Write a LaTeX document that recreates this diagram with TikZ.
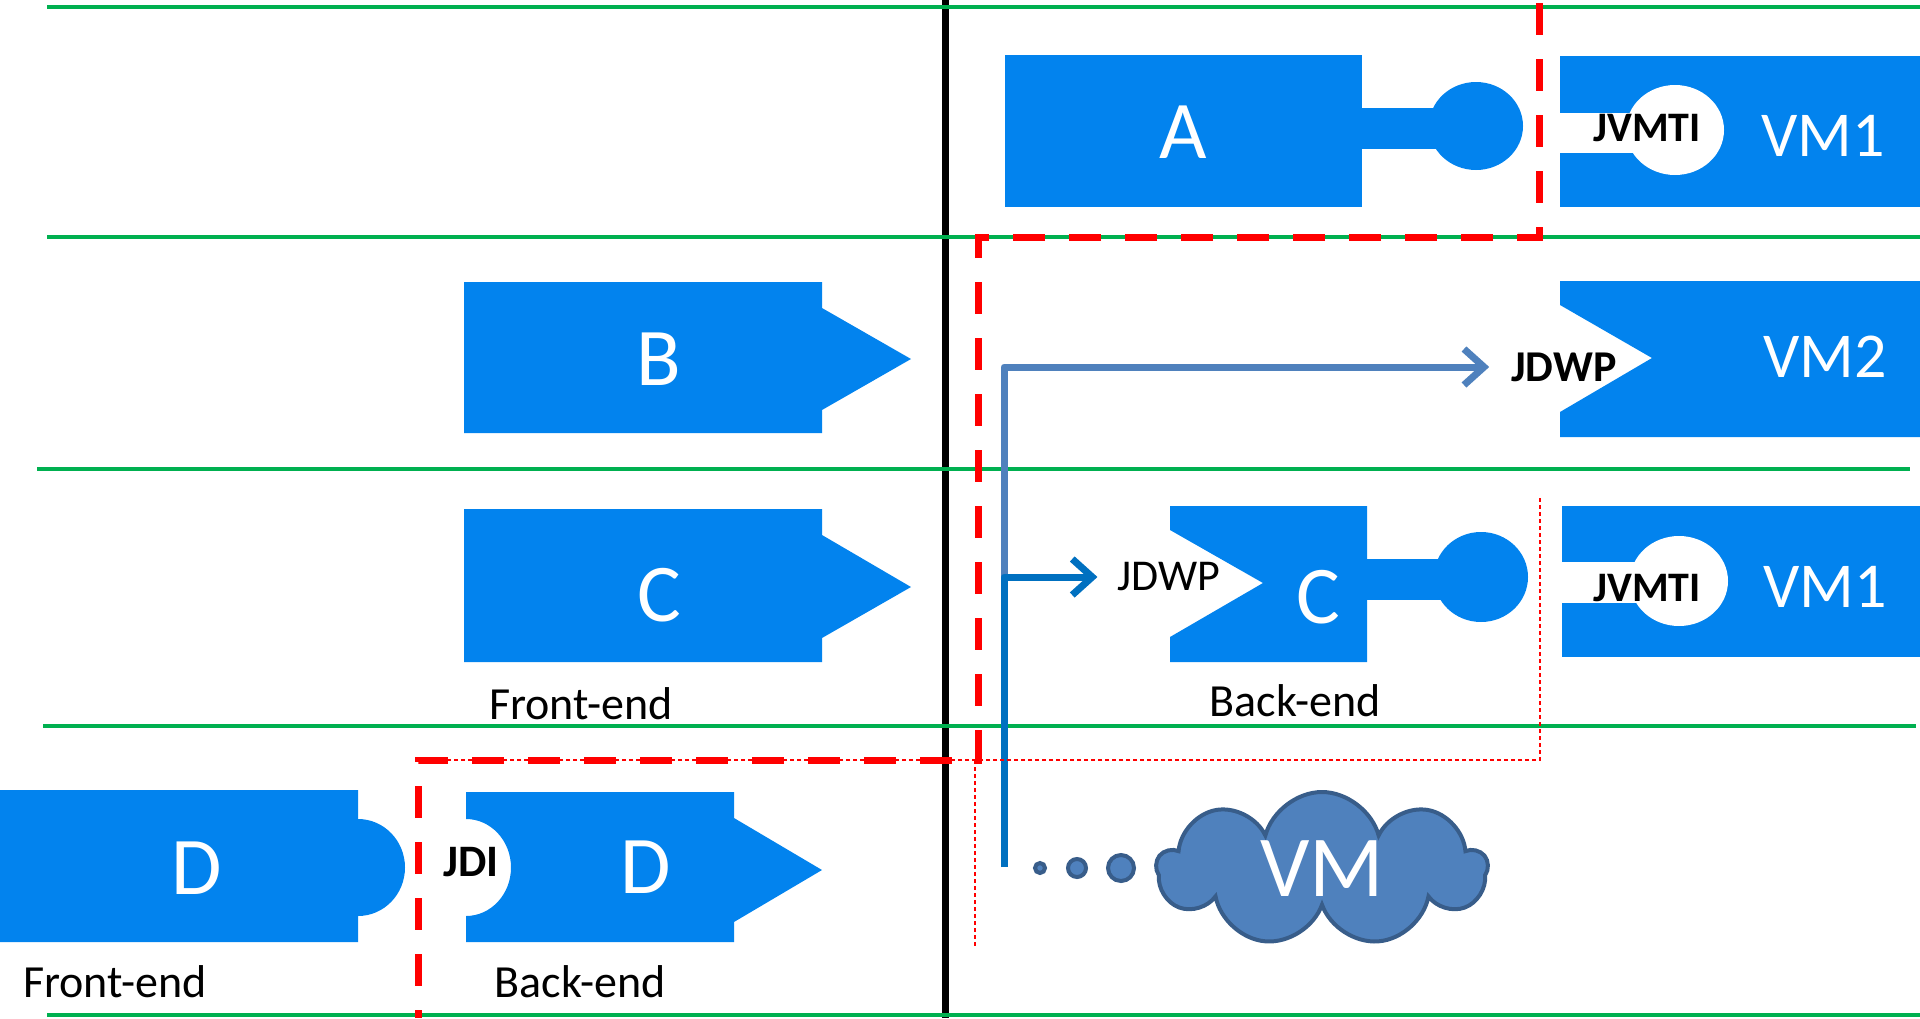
\documentclass[tikz,border=0pt]{standalone}
\usepackage{fontspec}
\setmainfont{Carlito}
\usetikzlibrary{arrows.meta,shapes.symbols}
\definecolor{boxblue}{RGB}{2,131,238}
\definecolor{gridgreen}{RGB}{0,176,80}
\definecolor{steel}{RGB}{79,129,189}
\definecolor{wireblue}{RGB}{0,112,192}
\definecolor{cloudedge}{RGB}{56,93,138}

\begin{document}
\begin{tikzpicture}[
		x=1pt, y=-1pt,
		every node/.style={inner sep=0pt},
		piece/.style={fill=boxblue},
		letter/.style={text=white,font=\fontsize{82}{82}\selectfont},
		vmname/.style={text=white,font=\fontsize{64}{64}\selectfont},
		iface/.style={font=\bfseries\fontsize{42}{42}\selectfont},
		caption/.style={font=\fontsize{46}{46}\selectfont},
		row/.style={draw=gridgreen,line width=4pt},
		border/.style={draw=red,line width=7pt,dash pattern=on 32pt off 24pt},
		fine/.style={draw=red,line width=1.5pt,dash pattern=on 4pt off 3pt},
		wire/.style={line width=7pt,line join=round,-{Straight Barb[length=20pt,width=36pt]}},
		bubble/.style={fill=steel,draw=cloudedge,line width=4pt}
		]
		\useasboundingbox (0,0) rectangle (1920,1018);
		% separator and rows
		\draw[line width=7pt] (945,0) -- (945,1018);
		\draw[row] (47,7) -- (1920,7);
		\draw[row] (47,237) -- (1920,237);
		\draw[row] (37,469) -- (1910,469);
		\draw[row] (43,726) -- (1916,726);
		\draw[row] (47,1015) -- (1920,1015);
		
		% row 1: A and VM1
		\fill[piece] (1005,55) rectangle (1362,207);
		\fill[piece] (1360,108) rectangle (1440,149);
		\fill[piece] (1476,126) circle[x radius=47pt,y radius=44pt];
		\node[letter] (a) at (1183,132) {A};
		\fill[piece] (1560,56) rectangle (1920,207);
		\fill[white] (1555,113) rectangle (1640,153);
		\fill[white] (1675,130) circle[x radius=49pt,y radius=45pt];
		\node[iface] (jvmtiA) at (1647,128) {JVMTI};
		\node[vmname] (vmA) at (1823,136) {VM1};
		
		% row 2: B and VM2
		\fill[piece] (464,282) -- (822,282) -- (822,308) -- (911,359) -- (822,410) -- (822,433) -- (464,433) -- cycle;
		\node[letter] (b) at (659,359) {B};
		\fill[piece] (1560,281) -- (1920,281) -- (1920,437) -- (1560,437) -- (1560,412) -- (1652,358) -- (1560,305) -- cycle;
		\node[vmname] (vmB) at (1825,357) {VM2};
		\node[iface,font=\bfseries\fontsize{44}{44}\selectfont] (jdwpB) at (1564,367) {JDWP};
		
		% row 3: C front, C back and VM1
		\fill[piece] (464,509) -- (822,509) -- (822,535) -- (911,587) -- (822,638) -- (822,662) -- (464,662) -- cycle;
		\node[letter] (cfront) at (659,595) {C};
		\node[caption] (frontC) at (581,704) {Front-end};
		\fill[piece] (1170,506) -- (1367,506) -- (1367,662) -- (1170,662) -- (1170,637) -- (1263,583) -- (1170,530) -- cycle;
		\fill[piece] (1365,559) rectangle (1445,600);
		\fill[piece] (1481,577) circle[x radius=47pt,y radius=45pt];
		\node[letter] (cback) at (1318,597) {C};
		\node[font=\fontsize{44}{44}\selectfont] (jdwpC) at (1169,577) {JDWP};
		\node[caption] (backC) at (1295,701) {Back-end};
		\fill[piece] (1562,506) rectangle (1920,657);
		\fill[white] (1557,562) rectangle (1640,603);
		\fill[white] (1679,581) circle[x radius=49pt,y radius=45pt];
		\node[iface] (jvmtiC) at (1647,588) {JVMTI};
		\node[vmname] (vmC) at (1825,587) {VM1};
		
		% row 4: D front, D back, VM cloud
		\fill[piece] (0,790) -- (358,790) -- (358,819) arc[start angle=90,end angle=-90,x radius=47pt,y radius=48.5pt] -- (358,942) -- (0,942) -- cycle;
		\node[letter] (dfront) at (197,868) {D};
		\node[caption] (frontD) at (115,982) {Front-end};
		\fill[piece] (466,792) -- (734,792) -- (734,818) -- (822,870) -- (734,922) -- (734,942) -- (466,942) -- (466,916) arc[start angle=-90,end angle=90,x radius=45pt,y radius=48.5pt] -- cycle;
		\node[iface,font=\bfseries\fontsize{45}{45}\selectfont] (jdi) at (471,862) {JDI};
		\node[letter] (dback) at (646,867) {D};
		\node[caption] (backD) at (580,982) {Back-end};
		\draw[bubble] (1040,868) circle[radius=5pt];
		\draw[bubble] (1077,868) circle[radius=9pt];
		\draw[bubble] (1121,868) circle[radius=13pt];
		\node[bubble,cloud,cloud puffs=9,aspect=2.1,minimum width=330pt,minimum height=154pt,text=white,font=\fontsize{87}{87}\selectfont] (vm) at (1322,869) {VM};
		
		% wires
		\coordinate (fork) at (1004,577);
		\coordinate (tail) at (1004,867);
		\draw[wire,steel,shorten >=22pt] (fork) |- (jdwpB.west);
		\draw[wire,wireblue,shorten >=20pt] (tail) |- (jdwpC.west);
		
		% boundaries
		\draw[fine] (1540,498) -- (1540,760) -- (420,760);
		\draw[fine] (975,760) -- (975,947);
		\draw[border] (1539,3) -- (1539,237) -- (978,237) -- (978,760) -- (418,760) -- (418,1018);
	\end{tikzpicture}
\end{document}
